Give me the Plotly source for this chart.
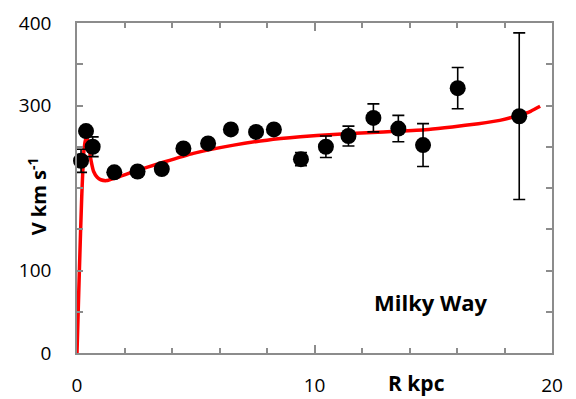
import plotly.graph_objects as go

# Observed rotation velocities
r_obs = [0.17, 0.38, 0.66, 1.57, 2.55, 3.57, 4.48, 5.52, 6.48, 7.54, 8.29,
         9.43, 10.48, 11.43, 12.48, 13.53, 14.57, 16.03, 18.62]
v_obs = [233, 269, 250, 219, 220, 223, 248, 254, 271, 268, 271,
         235, 250, 263, 285, 272, 252, 321, 287]
v_err = [14, 0, 12, 0, 0, 0, 0, 0, 0, 0, 0,
         8, 13, 12, 17, 16, 26, 25, 101]

# Model curve
r_model = [0, 0.1, 0.2, 0.3, 0.4, 0.5, 0.6, 0.7, 0.85, 1.0, 1.25, 1.6, 2.5,
           3.5, 4.9, 6.6, 8.0, 9.4, 10.8, 12.2, 13.6, 14.8, 15.8, 16.9,
           17.8, 18.6, 19.1, 19.5]
v_model = [0, 100, 190, 248, 264, 250, 232, 220, 213, 210, 209, 212, 221,
           230, 242, 252, 258, 262, 265, 267, 269, 271, 274, 278,
           282, 288, 293, 299]

x_ticks = [0, 10, 20]
y_ticks = [0, 100, 300, 400]

font = "Open Sans"

fig = go.Figure()
fig.add_trace(go.Scatter(
    x=r_model, y=v_model, mode="lines",
    line=dict(color="#ff0000", width=3.5, shape="spline", smoothing=0.6),
    cliponaxis=False, showlegend=False, hoverinfo="skip"))
fig.add_trace(go.Scatter(
    x=r_obs, y=v_obs, mode="markers",
    marker=dict(color="black", size=16),
    error_y=dict(type="data", array=v_err, color="black", thickness=1.6, width=6),
    cliponaxis=False, showlegend=False))

axis_common = dict(showgrid=False, zeroline=False, showline=True,
                   linecolor="#8c8c8c", linewidth=1.5, mirror="allticks",
                   ticks="inside", tickcolor="#8c8c8c", tickwidth=1.5,
                   automargin=False,
                   tickfont=dict(family=font, size=19, color="black"))

fig.update_xaxes(range=[0, 20], tickvals=x_ticks, ticklen=8,
                 ticklabelstandoff=14,
                 minor=dict(dtick=2, ticks="inside", ticklen=5,
                            tickcolor="#8c8c8c", tickwidth=1.5),
                 **axis_common)
fig.update_yaxes(range=[0, 400], tickvals=y_ticks,
                 ticklen=6, ticklabelstandoff=20,
                 minor=dict(dtick=50, ticks="inside", ticklen=6,
                            tickcolor="#8c8c8c", tickwidth=1.5),
                 **axis_common)

fig.add_annotation(text="<b>R kpc</b>", xref="x", yref="paper", x=14.3, y=-0.091,
                   showarrow=False, font=dict(family=font, size=21, color="black"),
                   xanchor="center", yanchor="middle")
fig.add_annotation(text="<b>V km s<sup>-1</sup></b>", xref="paper", yref="y",
                   x=-0.084, y=190, textangle=-90, showarrow=False,
                   xanchor="center", yanchor="middle",
                   font=dict(family=font, size=20, color="black"))
fig.add_annotation(text="<b>Milky Way</b>", xref="x", yref="y", x=14.9, y=62,
                   showarrow=False, xanchor="center",
                   font=dict(family=font, size=22, color="black"))

fig.update_layout(width=576, height=399,
                  margin=dict(l=77, r=24, t=23, b=46),
                  plot_bgcolor="white", paper_bgcolor="white")

fig.write_html("out.html")
